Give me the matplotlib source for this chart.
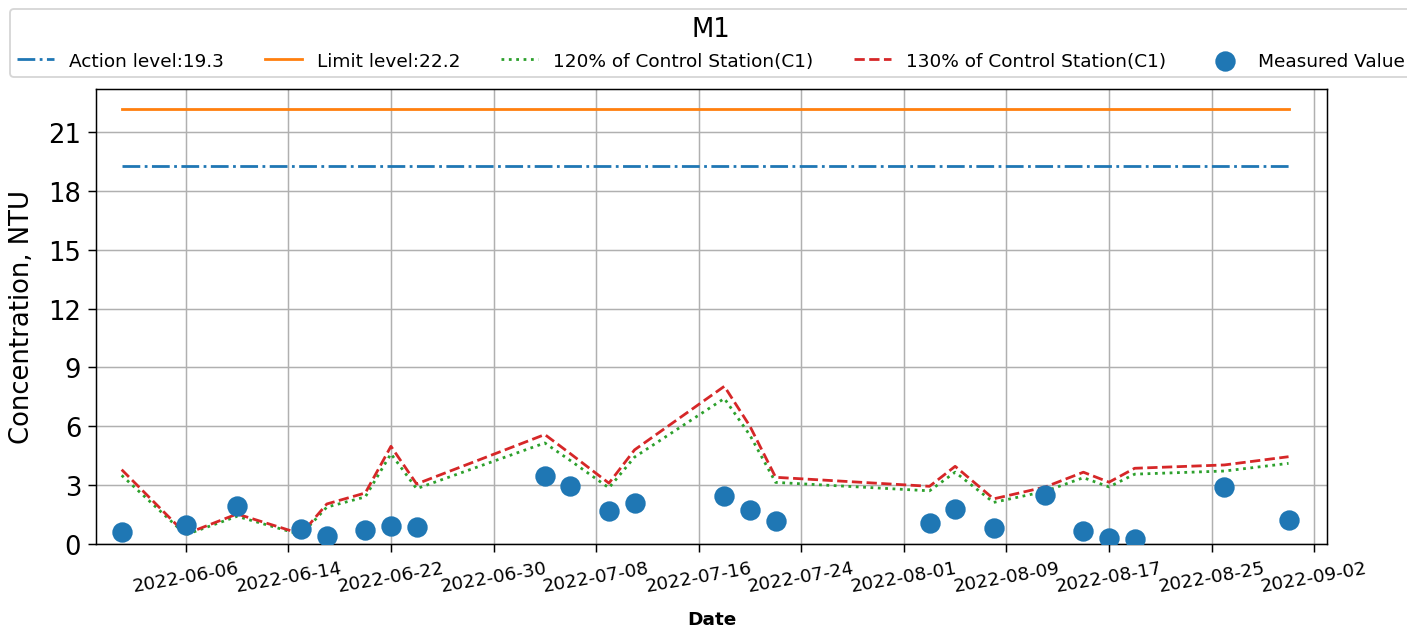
import numpy as np
import pandas as pd
import matplotlib
matplotlib.use("Agg")
import matplotlib.pyplot as plt
import matplotlib.dates as mdates
import matplotlib.ticker as ticker

# ── Gögn lesin af myndinni ──────────────────────────────────────────────────
dates = pd.to_datetime([
    "2022-06-01", "2022-06-06", "2022-06-10", "2022-06-15", "2022-06-17",
    "2022-06-20", "2022-06-22", "2022-06-24", "2022-07-04", "2022-07-06",
    "2022-07-09", "2022-07-11", "2022-07-18", "2022-07-20", "2022-07-22",
    "2022-08-03", "2022-08-05", "2022-08-08", "2022-08-12", "2022-08-15",
    "2022-08-17", "2022-08-19", "2022-08-26", "2022-08-31",
])

measured = [0.63, 0.99, 1.95, 0.77, 0.42, 0.71, 0.90, 0.85, 3.45, 2.96,
            1.70, 2.08, 2.46, 1.73, 1.19, 1.05, 1.79, 0.80, 2.50, 0.68,
            0.31, 0.26, 2.89, 1.22]

c1_120 = [3.50, 0.47, 1.41, 0.47, 1.88, 2.40, 4.60, 2.82, 5.15, 4.25,
          2.86, 4.43, 7.42, 5.54, 3.14, 2.71, 3.66, 2.12, 2.68, 3.38,
          2.91, 3.56, 3.72, 4.11]

c1_130 = [3.79, 0.51, 1.53, 0.51, 2.04, 2.60, 4.98, 3.06, 5.58, 4.60,
          3.10, 4.80, 8.04, 6.00, 3.40, 2.94, 3.96, 2.30, 2.90, 3.66,
          3.15, 3.86, 4.03, 4.45]

action_level = 19.3
limit_level = 22.2
station = "M1"

tick_dates = pd.date_range("2022-06-06", "2022-09-02", freq="8D")

# ── Mynd ────────────────────────────────────────────────────────────────────
fig = plt.figure(figsize=(10.56, 4.7175), dpi=133.33)
ax = fig.add_axes([0.0682, 0.1336, 0.8743, 0.7233])

ax.plot(dates, [action_level] * len(dates), "-.", color="C0",
        label=f"Action level:{action_level}")
ax.plot(dates, [limit_level] * len(dates), "-", color="C1",
        label=f"Limit level:{limit_level}")
ax.plot(dates, c1_120, ":", color="C2", label="120% of Control Station(C1)")
ax.plot(dates, c1_130, "--", color="C3", label="130% of Control Station(C1)")
ax.scatter(dates, measured, s=100, color="C0", zorder=3, label="Measured Value")

ax.set_xlim(pd.Timestamp("2022-05-30"), pd.Timestamp("2022-09-03"))
ax.set_ylim(0, 23.2)
ax.yaxis.set_major_locator(ticker.MultipleLocator(3))
ax.set_xticks(tick_dates)
ax.xaxis.set_major_formatter(mdates.DateFormatter("%Y-%m-%d"))
ax.tick_params(axis="x", labelsize=10, labelrotation=10, length=4.5)
ax.tick_params(axis="y", labelsize=14, length=4.5)
ax.grid(True)

ax.set_ylabel("Concentration, NTU", fontsize=14, labelpad=7)
ax.set_xlabel("Date", fontsize=10, fontweight="bold", labelpad=8)

ax.legend(ncol=5, title=station, title_fontsize=14, fontsize=10,
          loc="lower left", bbox_to_anchor=(10 / 1408, 1 - 78 / 629),
          bbox_transform=fig.transFigure, borderaxespad=0,
          columnspacing=2.2)

fig.savefig("out.png", dpi=133.33)
